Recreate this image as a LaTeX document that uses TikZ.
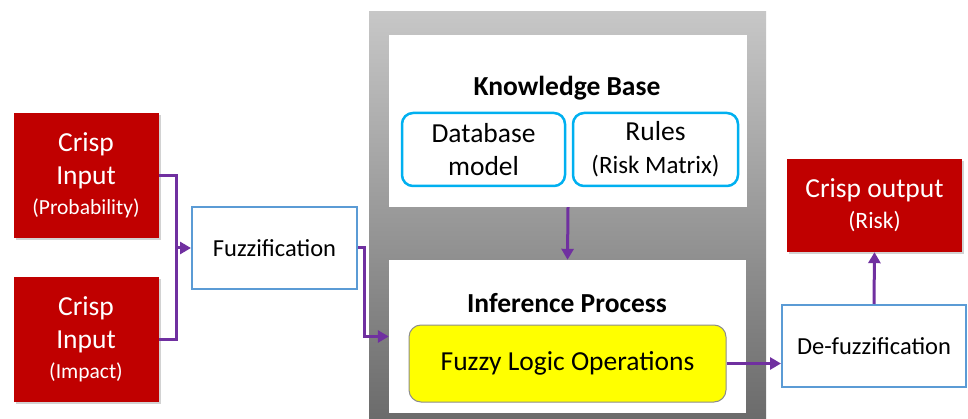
\documentclass[tikz,border=0pt]{standalone}
\usepackage{fontspec}
\setmainfont{Carlito}
\usetikzlibrary{arrows.meta,shadows}
\definecolor{crispred}{HTML}{C00000}
\definecolor{fuzzblue}{HTML}{5B9BD5}
\definecolor{kbcyan}{HTML}{00B0F0}
\definecolor{flowpurple}{HTML}{7030A0}
\definecolor{opyellow}{HTML}{FFFF00}
\newcommand{\bigtxt}{\fontsize{27.5}{33}\selectfont}
\newcommand{\midtxt}{\fontsize{24.5}{30}\selectfont}
\newcommand{\smalltxt}{\fontsize{21.5}{26}\selectfont}
\begin{document}
\begin{tikzpicture}[x=1pt,y=-1pt,
    crisp/.style={fill=crispred,text=white,align=center,inner sep=0pt,font=\bigtxt,
        drop shadow={opacity=0.35,shadow xshift=2pt,shadow yshift=-2pt}},
    fuzzbox/.style={draw=fuzzblue,line width=2pt,fill=white,align=center,inner sep=0pt,font=\midtxt},
    kbpart/.style={draw=kbcyan,line width=2.5pt,rounded corners=11pt,align=center,inner sep=0pt,font=\bigtxt},
    panel/.style={fill=white,inner sep=0pt},
    flow/.style={draw=flowpurple,line width=3pt,-{Triangle[length=11pt,width=12pt]}},
    wire/.style={draw=flowpurple,line width=3pt}]
    \useasboundingbox (0,0) rectangle (968,419);
    \fill[white] (0,0) rectangle (968,419);
    \shade[top color=black!22,bottom color=black!58] (369,12) rectangle (766,419);
    \node (in1) at (86,175.5) [crisp,minimum width=145pt,minimum height=125pt]
        {Crisp\\Input\\[-3pt]\smalltxt (Probability)};
    \node (in2) at (86,339.5) [crisp,minimum width=145pt,minimum height=125pt]
        {Crisp\\Input\\[-3pt]\smalltxt (Impact)};
    \node (fuzz) at (274.5,248) [fuzzbox,minimum width=165pt,minimum height=82pt] {Fuzzification};
    \node (kb) at (568,121) [panel,minimum width=358pt,minimum height=172pt] {};
    \node (kbtitle) at (567,88) [font=\bigtxt\bfseries] {Knowledge Base};
    \node (db) at (483.5,149.5) [kbpart,minimum width=163pt,minimum height=73pt] {Database\\model};
    \node (rules) at (655.5,149.5) [kbpart,minimum width=165pt,minimum height=73pt]
        {Rules\\\fontsize{25}{30}\selectfont (Risk Matrix)};
    \node (inf) at (567.5,336.5) [panel,minimum width=357pt,minimum height=153pt] {};
    \node (inftitle) at (567,303) [font=\bigtxt\bfseries] {Inference Process};
    \node (ops) at (567.5,363.5) [draw=black!45,line width=1pt,fill=opyellow,rounded corners=12pt,
        minimum width=317pt,minimum height=77pt,inner sep=0pt,font=\bigtxt] {Fuzzy Logic Operations};
    \node (defuzz) at (874,346) [fuzzbox,minimum width=184pt,minimum height=82pt] {De-fuzzification};
    \node (out) at (874.5,205.5) [crisp,minimum width=175pt,minimum height=93pt]
        {Crisp output\\[-2pt]\fontsize{23.5}{28}\selectfont (Risk)};
    \coordinate (join) at (176,248);
    \draw[wire] (in1.east) -| (join) |- (in2.east);
    \draw[flow] (join) -- (fuzz.west);
    \draw[flow] (fuzz.east) -- ++(6,0) |- (inf.west);
    \draw[flow] (kb.south) -- (inf.north);
    \draw[flow] (ops.east) -- (ops.east -| defuzz.west);
    \draw[flow] (defuzz.north) -- (out.south);
\end{tikzpicture}
\end{document}
